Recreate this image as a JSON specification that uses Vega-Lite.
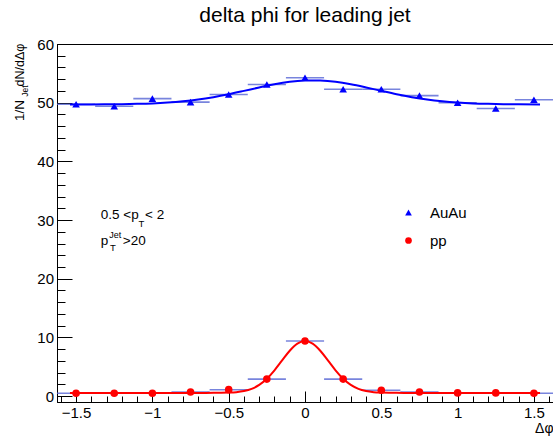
{
  "$schema": "https://vega.github.io/schema/vega-lite/v6.json",
  "width": 496,
  "height": 358,
  "autosize": {"type": "none"},
  "padding": {"left": 57, "top": 44, "right": 0, "bottom": 36},
  "background": "white",
  "config": {
    "font": "Liberation Sans",
    "view": {"stroke": "black", "strokeWidth": 1},
    "axis": {"grid": false, "domainColor": "black", "tickColor": "black", "labelColor": "black", "labelFont": "Liberation Sans", "labelFontSize": 15, "labelFlush": false, "labelOverlap": false, "tickWidth": 1, "domainWidth": 1}
  },
  "title": {"text": "delta phi for leading jet", "font": "Liberation Sans", "fontSize": 21, "fontWeight": "normal", "color": "black", "anchor": "middle", "frame": "group", "baseline": "alphabetic", "offset": 14, "dy": 20},
  "datasets": {
    "points": [
      {"series": "AuAu", "dphi": -1.5, "lo": -1.625, "hi": -1.375, "value": 49.74},
      {"series": "AuAu", "dphi": -1.25, "lo": -1.375, "hi": -1.125, "value": 49.4},
      {"series": "AuAu", "dphi": -1.0, "lo": -1.125, "hi": -0.875, "value": 50.7},
      {"series": "AuAu", "dphi": -0.75, "lo": -0.875, "hi": -0.625, "value": 50.1},
      {"series": "AuAu", "dphi": -0.5, "lo": -0.625, "hi": -0.375, "value": 51.4},
      {"series": "AuAu", "dphi": -0.25, "lo": -0.375, "hi": -0.125, "value": 53.1},
      {"series": "AuAu", "dphi": 0.0, "lo": -0.125, "hi": 0.125, "value": 54.25},
      {"series": "AuAu", "dphi": 0.25, "lo": 0.125, "hi": 0.375, "value": 52.3},
      {"series": "AuAu", "dphi": 0.5, "lo": 0.375, "hi": 0.625, "value": 52.3},
      {"series": "AuAu", "dphi": 0.75, "lo": 0.625, "hi": 0.875, "value": 51.2},
      {"series": "AuAu", "dphi": 1.0, "lo": 0.875, "hi": 1.125, "value": 50.0},
      {"series": "AuAu", "dphi": 1.25, "lo": 1.125, "hi": 1.375, "value": 49.0},
      {"series": "AuAu", "dphi": 1.5, "lo": 1.375, "hi": 1.625, "value": 50.5},
      {"series": "pp", "dphi": -1.5, "lo": -1.625, "hi": -1.375, "value": 0.5},
      {"series": "pp", "dphi": -1.25, "lo": -1.375, "hi": -1.125, "value": 0.5},
      {"series": "pp", "dphi": -1.0, "lo": -1.125, "hi": -0.875, "value": 0.5},
      {"series": "pp", "dphi": -0.75, "lo": -0.875, "hi": -0.625, "value": 0.7},
      {"series": "pp", "dphi": -0.5, "lo": -0.625, "hi": -0.375, "value": 1.1},
      {"series": "pp", "dphi": -0.25, "lo": -0.375, "hi": -0.125, "value": 2.9},
      {"series": "pp", "dphi": 0.0, "lo": -0.125, "hi": 0.125, "value": 9.4},
      {"series": "pp", "dphi": 0.25, "lo": 0.125, "hi": 0.375, "value": 2.9},
      {"series": "pp", "dphi": 0.5, "lo": 0.375, "hi": 0.625, "value": 1.0},
      {"series": "pp", "dphi": 0.75, "lo": 0.625, "hi": 0.875, "value": 0.7},
      {"series": "pp", "dphi": 1.0, "lo": 0.875, "hi": 1.125, "value": 0.55},
      {"series": "pp", "dphi": 1.25, "lo": 1.125, "hi": 1.375, "value": 0.55},
      {"series": "pp", "dphi": 1.5, "lo": 1.375, "hi": 1.625, "value": 0.5}
    ],
    "fitAuAu": [
      {"dphi": -1.54, "value": 49.7}, {"dphi": -1.4, "value": 49.71}, {"dphi": -1.3, "value": 49.72}, {"dphi": -1.2, "value": 49.75},
      {"dphi": -1.1, "value": 49.8}, {"dphi": -1.0, "value": 49.88}, {"dphi": -0.9, "value": 50.02}, {"dphi": -0.8, "value": 50.23},
      {"dphi": -0.7, "value": 50.53}, {"dphi": -0.6, "value": 50.94}, {"dphi": -0.5, "value": 51.44}, {"dphi": -0.4, "value": 52.01},
      {"dphi": -0.3, "value": 52.6}, {"dphi": -0.2, "value": 53.14}, {"dphi": -0.1, "value": 53.55}, {"dphi": 0.0, "value": 53.77},
      {"dphi": 0.05, "value": 53.8}, {"dphi": 0.1, "value": 53.77}, {"dphi": 0.2, "value": 53.55}, {"dphi": 0.3, "value": 53.14},
      {"dphi": 0.4, "value": 52.6}, {"dphi": 0.5, "value": 52.01}, {"dphi": 0.6, "value": 51.44}, {"dphi": 0.7, "value": 50.94},
      {"dphi": 0.8, "value": 50.53}, {"dphi": 0.9, "value": 50.23}, {"dphi": 1.0, "value": 50.02}, {"dphi": 1.1, "value": 49.88},
      {"dphi": 1.2, "value": 49.8}, {"dphi": 1.3, "value": 49.75}, {"dphi": 1.4, "value": 49.72}, {"dphi": 1.54, "value": 49.71}
    ],
    "fitpp": [
      {"dphi": -1.54, "value": 0.55}, {"dphi": -1.0, "value": 0.55}, {"dphi": -0.7, "value": 0.55}, {"dphi": -0.6, "value": 0.556},
      {"dphi": -0.55, "value": 0.566}, {"dphi": -0.5, "value": 0.6}, {"dphi": -0.45, "value": 0.68}, {"dphi": -0.4, "value": 0.87},
      {"dphi": -0.35, "value": 1.24}, {"dphi": -0.3, "value": 1.91}, {"dphi": -0.25, "value": 2.96}, {"dphi": -0.2, "value": 4.4},
      {"dphi": -0.15, "value": 6.09}, {"dphi": -0.1, "value": 7.74}, {"dphi": -0.05, "value": 8.95}, {"dphi": 0.0, "value": 9.4},
      {"dphi": 0.05, "value": 8.95}, {"dphi": 0.1, "value": 7.74}, {"dphi": 0.15, "value": 6.09}, {"dphi": 0.2, "value": 4.4},
      {"dphi": 0.25, "value": 2.96}, {"dphi": 0.3, "value": 1.91}, {"dphi": 0.35, "value": 1.24}, {"dphi": 0.4, "value": 0.87},
      {"dphi": 0.45, "value": 0.68}, {"dphi": 0.5, "value": 0.6}, {"dphi": 0.55, "value": 0.566}, {"dphi": 0.6, "value": 0.556},
      {"dphi": 0.7, "value": 0.55}, {"dphi": 1.0, "value": 0.55}, {"dphi": 1.54, "value": 0.55}
    ]
  },
  "resolve": {"axis": {"x": "independent", "y": "independent"}},
  "layer": [
    {
      "data": {"name": "points"},
      "mark": {"type": "rule", "color": "#4b5bd2", "strokeWidth": 1.6, "opacity": 0.75},
      "encoding": {
        "x": {"field": "lo", "type": "quantitative", "scale": {"domain": [-1.625, 1.625], "nice": false, "zero": false},
              "axis": {"orient": "bottom", "values": [-1.6, -1.5, -1.4, -1.3, -1.2, -1.1, -1.0, -0.9, -0.8, -0.7, -0.6, -0.5, -0.4, -0.3, -0.2, -0.1, 0, 0.1, 0.2, 0.3, 0.4, 0.5, 0.6, 0.7, 0.8, 0.9, 1.0, 1.1, 1.2, 1.3, 1.4, 1.5, 1.6], "labels": false, "domain": false, "tickSize": -6, "title": null}},
        "x2": {"field": "hi"},
        "y": {"field": "value", "type": "quantitative", "scale": {"domain": [-1, 60], "nice": false, "zero": false},
              "axis": {"orient": "left", "values": [0, 2, 4, 6, 8, 10, 12, 14, 16, 18, 20, 22, 24, 26, 28, 30, 32, 34, 36, 38, 40, 42, 44, 46, 48, 50, 52, 54, 56, 58, 60], "labels": false, "domain": false, "tickSize": -8, "title": null}}
      }
    },
    {
      "data": {"name": "fitAuAu"},
      "mark": {"type": "line", "color": "#0000ff", "strokeWidth": 2, "interpolate": "monotone"},
      "encoding": {
        "x": {"field": "dphi", "type": "quantitative",
              "axis": {"orient": "bottom", "values": [-1.5, -1, -0.5, 0, 0.5, 1, 1.5], "format": "~g", "tickSize": -11, "labelPadding": 14, "title": "Δφ", "titleFont": "Liberation Sans", "titleFontSize": 14, "titleFontWeight": "normal", "titleColor": "black", "titleAnchor": "end", "titleAlign": "right", "titleBaseline": "alphabetic", "titleX": 496, "titleY": 30}},
        "y": {"field": "value", "type": "quantitative",
              "axis": {"orient": "left", "values": [0, 10, 20, 30, 40, 50, 60], "tickSize": -15, "labelPadding": 18.5, "title": null}}
      }
    },
    {
      "data": {"name": "fitpp"},
      "mark": {"type": "line", "color": "#ff0000", "strokeWidth": 2, "interpolate": "monotone"},
      "encoding": {
        "x": {"field": "dphi", "type": "quantitative", "axis": null},
        "y": {"field": "value", "type": "quantitative", "axis": null}
      }
    },
    {
      "data": {"name": "points"},
      "mark": {"type": "point", "filled": true, "opacity": 1, "size": 58},
      "encoding": {
        "x": {"field": "dphi", "type": "quantitative", "axis": null},
        "y": {"field": "value", "type": "quantitative", "axis": null},
        "color": {"field": "series", "type": "nominal", "scale": {"domain": ["AuAu", "pp"], "range": ["#0000ff", "#ff0000"]},
                  "legend": {"orient": "none", "legendX": 344, "legendY": 161, "title": null, "padding": 0, "rowPadding": 12, "labelOffset": 14, "labelFontSize": 15, "labelFont": "Liberation Sans", "labelColor": "black", "symbolSize": 45}},
        "shape": {"field": "series", "type": "nominal", "scale": {"domain": ["AuAu", "pp"], "range": ["triangle-up", "circle"]},
                  "legend": {"orient": "none", "legendX": 344, "legendY": 161, "title": null, "padding": 0, "rowPadding": 12, "labelOffset": 14, "labelFontSize": 15, "labelFont": "Liberation Sans", "labelColor": "black", "symbolSize": 45}}
      }
    },
    {
      "data": {"values": [{}]},
      "mark": {"type": "text", "text": "dN/dΔφ", "angle": 270, "align": "right", "baseline": "middle", "fontSize": 12.5, "font": "Liberation Sans", "color": "black"},
      "encoding": {"x": {"datum": -1.8676, "type": "quantitative", "axis": null}, "y": {"datum": 60.08, "type": "quantitative", "axis": null}}
    },
    {
      "data": {"values": [{}]},
      "mark": {"type": "text", "text": "Jet", "angle": 270, "align": "right", "baseline": "middle", "fontSize": 8.5, "font": "Liberation Sans", "color": "black"},
      "encoding": {"x": {"datum": -1.8316, "type": "quantitative", "axis": null}, "y": {"datum": 52.95, "type": "quantitative", "axis": null}}
    },
    {
      "data": {"values": [{}]},
      "mark": {"type": "text", "text": "1/N", "angle": 270, "align": "right", "baseline": "middle", "fontSize": 13.5, "font": "Liberation Sans", "color": "black"},
      "encoding": {"x": {"datum": -1.8676, "type": "quantitative", "axis": null}, "y": {"datum": 50.45, "type": "quantitative", "axis": null}}
    },
    {
      "data": {"values": [{}]},
      "mark": {"type": "text", "text": "0.5 <p", "align": "left", "baseline": "alphabetic", "fontSize": 13.5, "font": "Liberation Sans", "color": "black"},
      "encoding": {"x": {"datum": -1.3384, "type": "quantitative", "axis": null}, "y": {"datum": 30.15, "type": "quantitative", "axis": null}}
    },
    {
      "data": {"values": [{}]},
      "mark": {"type": "text", "text": "T", "align": "left", "baseline": "alphabetic", "fontSize": 9.5, "font": "Liberation Sans", "color": "black"},
      "encoding": {"x": {"datum": -1.0906, "type": "quantitative", "axis": null}, "y": {"datum": 28.88, "type": "quantitative", "axis": null}}
    },
    {
      "data": {"values": [{}]},
      "mark": {"type": "text", "text": "< 2", "align": "left", "baseline": "alphabetic", "fontSize": 13.5, "font": "Liberation Sans", "color": "black"},
      "encoding": {"x": {"datum": -1.048, "type": "quantitative", "axis": null}, "y": {"datum": 30.15, "type": "quantitative", "axis": null}}
    },
    {
      "data": {"values": [{}]},
      "mark": {"type": "text", "text": "p", "align": "left", "baseline": "alphabetic", "fontSize": 13.5, "font": "Liberation Sans", "color": "black"},
      "encoding": {"x": {"datum": -1.3384, "type": "quantitative", "axis": null}, "y": {"datum": 25.72, "type": "quantitative", "axis": null}}
    },
    {
      "data": {"values": [{}]},
      "mark": {"type": "text", "text": "Jet", "align": "left", "baseline": "alphabetic", "fontSize": 9, "font": "Liberation Sans", "color": "black"},
      "encoding": {"x": {"datum": -1.282, "type": "quantitative", "axis": null}, "y": {"datum": 26.92, "type": "quantitative", "axis": null}}
    },
    {
      "data": {"values": [{}]},
      "mark": {"type": "text", "text": "T", "align": "left", "baseline": "alphabetic", "fontSize": 9.5, "font": "Liberation Sans", "color": "black"},
      "encoding": {"x": {"datum": -1.2775, "type": "quantitative", "axis": null}, "y": {"datum": 24.79, "type": "quantitative", "axis": null}}
    },
    {
      "data": {"values": [{}]},
      "mark": {"type": "text", "text": ">20", "align": "left", "baseline": "alphabetic", "fontSize": 13.5, "font": "Liberation Sans", "color": "black"},
      "encoding": {"x": {"datum": -1.194, "type": "quantitative", "axis": null}, "y": {"datum": 25.72, "type": "quantitative", "axis": null}}
    }
  ]
}
